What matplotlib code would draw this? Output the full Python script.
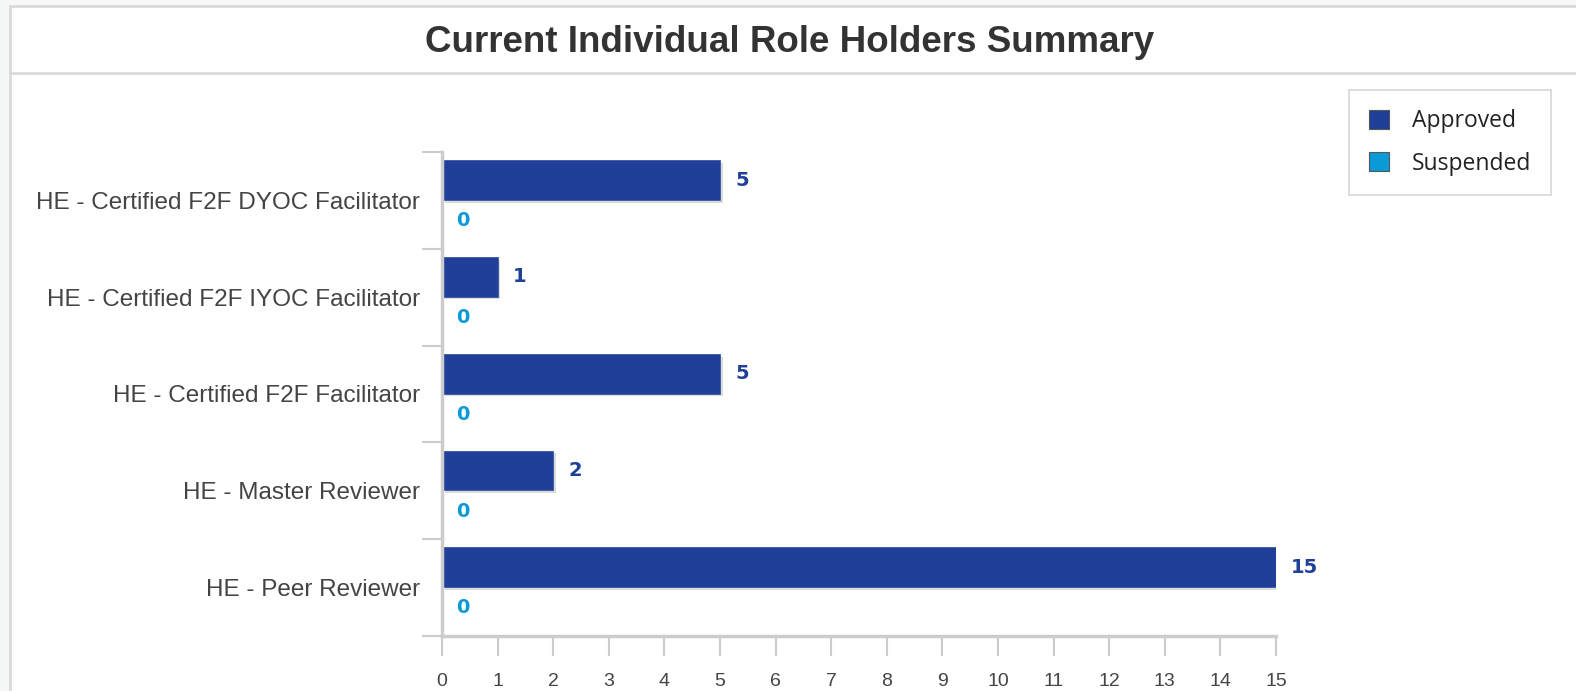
import matplotlib
matplotlib.use("Agg")
import matplotlib.pyplot as plt
import matplotlib.patheffects as pe
from matplotlib.patches import Rectangle, Patch
from matplotlib.lines import Line2D
import numpy as np

categories = [
    "HE - Certified F2F DYOC Facilitator",
    "HE - Certified F2F IYOC Facilitator",
    "HE - Certified F2F Facilitator",
    "HE - Master Reviewer",
    "HE - Peer Reviewer",
]
approved = [5, 1, 5, 2, 15]
suspended = [0, 0, 0, 0, 0]
series_names = ["Approved", "Suspended"]
x_ticks = list(range(0, 16))

W, H = 1576, 691
fig = plt.figure(figsize=(W / 100, H / 100), dpi=100)
fig.patch.set_facecolor("white")

# outer panel background / borders
fig.add_artist(Rectangle((0, 0), 1, 1, transform=fig.transFigure, facecolor="#f6f8f8", edgecolor="none", zorder=-10))
fig.add_artist(Rectangle((10 / W, 0), 1 - 10 / W, 1 - 6 / H, transform=fig.transFigure, facecolor="white", edgecolor="none", zorder=-9))
border_c = "#d9d9d9"
fig.add_artist(Line2D([10 / W, 1], [1 - 6 / H, 1 - 6 / H], transform=fig.transFigure, color=border_c, lw=2))
fig.add_artist(Line2D([10 / W, 10 / W], [0, 1 - 6 / H], transform=fig.transFigure, color=border_c, lw=2))
fig.add_artist(Line2D([10 / W, 1], [1 - 73 / H, 1 - 73 / H], transform=fig.transFigure, color=border_c, lw=2))

fig.text(790 / W, 1 - 42 / H, "Current Individual Role Holders Summary", ha="center", va="center",
         fontsize=26.5, fontweight="bold", color="#333333", family="Liberation Sans")

left, right, top, bottom = 442, 1276, 152, 636
ax = fig.add_axes([left / W, 1 - bottom / H, (right - left) / W, (bottom - top) / H])

c_app = "#1f3f99"
c_sus = "#0a9ad8"
y = np.arange(len(categories))
h = 0.41
off = 0.21
shadow = [pe.SimplePatchShadow(offset=(2, -2), shadow_rgbFace="#999999", alpha=0.35), pe.Normal()]
b1 = ax.barh(y - off, approved, height=h, color=c_app, edgecolor="#3a56a8", linewidth=0.6)
b2 = ax.barh(y + off, suspended, height=h, color=c_sus, edgecolor="#3a56a8", linewidth=0.6)
for b in b1:
    b.set_path_effects(shadow)

for yi, v in zip(y, approved):
    ax.annotate(str(v), (v, yi - off), xytext=(11, 0), textcoords="offset points",
                ha="left", va="center", fontsize=14, fontweight="bold", color=c_app, family="DejaVu Sans")
for yi, v in zip(y, suspended):
    ax.annotate(str(v), (v, yi + off), xytext=(10, 0), textcoords="offset points",
                ha="left", va="center", fontsize=14, fontweight="bold", color=c_sus, family="DejaVu Sans")

ax.set_xlim(0, 15)
ax.set_ylim(len(categories) - 0.5, -0.5)
ax.set_xticks(x_ticks)
ax.set_xticklabels([str(t) for t in x_ticks], fontsize=14, color="#444444", family="Liberation Sans")
ax.set_yticks(y)
ax.set_yticklabels(categories, fontsize=17.5, color="#444444", family="Liberation Sans")
ax.set_yticks(np.arange(len(categories) + 1) - 0.5, minor=True)
ax.tick_params(axis="y", which="major", length=0, pad=16)
ax.tick_params(axis="y", which="minor", length=14.4, width=1.5, color="#cccccc")
ax.tick_params(axis="x", which="major", length=14.4, width=1.5, color="#cccccc", pad=12)

for s in ["top", "right"]:
    ax.spines[s].set_visible(False)
ax.spines["left"].set_color("#cccccc")
ax.spines["left"].set_linewidth(2.5)
ax.spines["bottom"].set_color("#cccccc")
ax.spines["bottom"].set_linewidth(2.5)

handles = [Patch(facecolor=c_app, edgecolor="#555555", linewidth=0.8),
           Patch(facecolor=c_sus, edgecolor="#555555", linewidth=0.8)]
leg = fig.legend(handles, series_names, loc="upper right", bbox_to_anchor=(1551 / W, 1 - 90 / H),
                 frameon=True, fancybox=False, edgecolor="#cccccc",
                 handlelength=0.9, handleheight=0.9, handletextpad=1.0, labelspacing=0.8,
                 borderpad=0.85, borderaxespad=0, prop={"family": "Open Sans", "size": 16.5})
leg.get_frame().set_linewidth(1.2)
for t in leg.get_texts():
    t.set_color("#222222")

fig.savefig("out.png", dpi=100)
